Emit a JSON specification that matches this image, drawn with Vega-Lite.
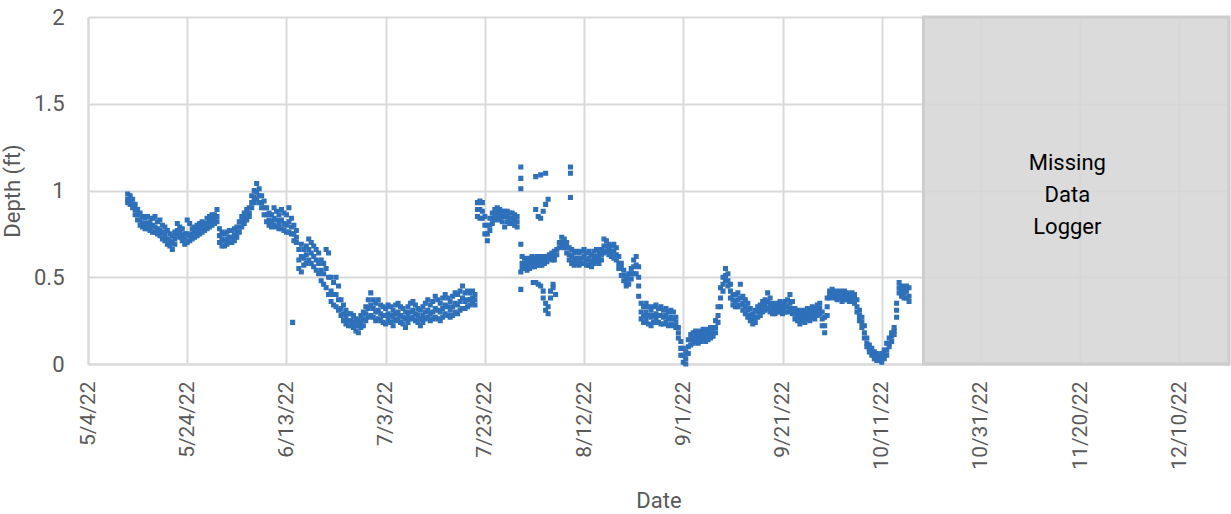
{
"$schema":"https://vega.github.io/schema/vega-lite/v6.json",
"width":1141,"height":347,
"autosize":{"type":"none"},
"padding":{"left":88,"top":17,"right":2,"bottom":150},
"background":"white",
"config":{"view":{"stroke":null},"font":"Roboto"},
"layer":[
{"data":{"values":[{}]},
 "mark":{"type":"rect","fill":"#D6D6D6","fillOpacity":0.88,"stroke":"#CDCDCD","strokeWidth":3},
 "encoding":{"x":{"datum":{"year":2022,"month":10,"date":19,"hours":10},"type":"temporal"},"x2":{"datum":{"year":2022,"month":12,"date":20}},"y":{"datum":0,"type":"quantitative"},"y2":{"datum":2}}},
{"data":{"values":[
{"t":"2022-05-12T00:00","v":0.98},{"t":"2022-05-12T00:00","v":0.95},{"t":"2022-05-12T00:00","v":0.93},{"t":"2022-05-12T12:00","v":0.97},{"t":"2022-05-12T12:00","v":0.94},{"t":"2022-05-12T12:00","v":0.92},
{"t":"2022-05-13T00:00","v":0.95},{"t":"2022-05-13T00:00","v":0.92},{"t":"2022-05-13T00:00","v":0.90},{"t":"2022-05-13T12:00","v":0.92},{"t":"2022-05-13T12:00","v":0.89},{"t":"2022-05-13T12:00","v":0.86},
{"t":"2022-05-14T00:00","v":0.89},{"t":"2022-05-14T00:00","v":0.86},{"t":"2022-05-14T00:00","v":0.83},{"t":"2022-05-14T12:00","v":0.87},{"t":"2022-05-14T12:00","v":0.83},{"t":"2022-05-14T12:00","v":0.80},
{"t":"2022-05-15T00:00","v":0.85},{"t":"2022-05-15T00:00","v":0.81},{"t":"2022-05-15T00:00","v":0.79},{"t":"2022-05-15T12:00","v":0.84},{"t":"2022-05-15T12:00","v":0.80},{"t":"2022-05-15T12:00","v":0.78},
{"t":"2022-05-16T00:00","v":0.85},{"t":"2022-05-16T00:00","v":0.81},{"t":"2022-05-16T00:00","v":0.78},{"t":"2022-05-16T12:00","v":0.82},{"t":"2022-05-16T12:00","v":0.79},{"t":"2022-05-16T12:00","v":0.77},
{"t":"2022-05-17T00:00","v":0.84},{"t":"2022-05-17T00:00","v":0.80},{"t":"2022-05-17T00:00","v":0.76},{"t":"2022-05-17T12:00","v":0.85},{"t":"2022-05-17T12:00","v":0.79},{"t":"2022-05-17T12:00","v":0.76},
{"t":"2022-05-18T00:00","v":0.82},{"t":"2022-05-18T00:00","v":0.78},{"t":"2022-05-18T00:00","v":0.75},{"t":"2022-05-18T12:00","v":0.83},{"t":"2022-05-18T12:00","v":0.77},{"t":"2022-05-18T12:00","v":0.74},
{"t":"2022-05-19T00:00","v":0.80},{"t":"2022-05-19T00:00","v":0.76},{"t":"2022-05-19T00:00","v":0.72},{"t":"2022-05-19T12:00","v":0.79},{"t":"2022-05-19T12:00","v":0.74},{"t":"2022-05-19T12:00","v":0.71},
{"t":"2022-05-20T00:00","v":0.77},{"t":"2022-05-20T00:00","v":0.72},{"t":"2022-05-20T00:00","v":0.69},{"t":"2022-05-20T12:00","v":0.75},{"t":"2022-05-20T12:00","v":0.71},{"t":"2022-05-20T12:00","v":0.68},
{"t":"2022-05-21T00:00","v":0.74},{"t":"2022-05-21T00:00","v":0.70},{"t":"2022-05-21T00:00","v":0.66},{"t":"2022-05-21T12:00","v":0.76},{"t":"2022-05-21T12:00","v":0.72},{"t":"2022-05-21T12:00","v":0.69},
{"t":"2022-05-22T00:00","v":0.81},{"t":"2022-05-22T00:00","v":0.77},{"t":"2022-05-22T00:00","v":0.74},{"t":"2022-05-22T12:00","v":0.79},{"t":"2022-05-22T12:00","v":0.76},{"t":"2022-05-22T12:00","v":0.73},
{"t":"2022-05-23T00:00","v":0.78},{"t":"2022-05-23T00:00","v":0.74},{"t":"2022-05-23T00:00","v":0.71},{"t":"2022-05-23T12:00","v":0.75},{"t":"2022-05-23T12:00","v":0.72},{"t":"2022-05-23T12:00","v":0.69},
{"t":"2022-05-24T00:00","v":0.83},{"t":"2022-05-24T00:00","v":0.75},{"t":"2022-05-24T00:00","v":0.70},{"t":"2022-05-24T12:00","v":0.81},{"t":"2022-05-24T12:00","v":0.74},{"t":"2022-05-24T12:00","v":0.71},
{"t":"2022-05-25T00:00","v":0.78},{"t":"2022-05-25T00:00","v":0.75},{"t":"2022-05-25T00:00","v":0.72},{"t":"2022-05-25T12:00","v":0.79},{"t":"2022-05-25T12:00","v":0.76},{"t":"2022-05-25T12:00","v":0.73},
{"t":"2022-05-26T00:00","v":0.80},{"t":"2022-05-26T00:00","v":0.77},{"t":"2022-05-26T00:00","v":0.74},{"t":"2022-05-26T12:00","v":0.81},{"t":"2022-05-26T12:00","v":0.78},{"t":"2022-05-26T12:00","v":0.75},
{"t":"2022-05-27T00:00","v":0.82},{"t":"2022-05-27T00:00","v":0.78},{"t":"2022-05-27T00:00","v":0.76},{"t":"2022-05-27T12:00","v":0.81},{"t":"2022-05-27T12:00","v":0.79},{"t":"2022-05-27T12:00","v":0.77},
{"t":"2022-05-28T00:00","v":0.84},{"t":"2022-05-28T00:00","v":0.80},{"t":"2022-05-28T00:00","v":0.78},{"t":"2022-05-28T12:00","v":0.85},{"t":"2022-05-28T12:00","v":0.82},{"t":"2022-05-28T12:00","v":0.79},
{"t":"2022-05-29T00:00","v":0.86},{"t":"2022-05-29T00:00","v":0.83},{"t":"2022-05-29T00:00","v":0.80},{"t":"2022-05-29T12:00","v":0.86},{"t":"2022-05-29T12:00","v":0.84},{"t":"2022-05-29T12:00","v":0.81},
{"t":"2022-05-30T00:00","v":0.89},{"t":"2022-05-30T00:00","v":0.85},{"t":"2022-05-30T00:00","v":0.82},{"t":"2022-05-30T12:00","v":0.78},{"t":"2022-05-30T12:00","v":0.74},{"t":"2022-05-30T12:00","v":0.70},
{"t":"2022-05-31T00:00","v":0.76},{"t":"2022-05-31T00:00","v":0.72},{"t":"2022-05-31T00:00","v":0.68},{"t":"2022-05-31T12:00","v":0.75},{"t":"2022-05-31T12:00","v":0.71},{"t":"2022-05-31T12:00","v":0.68},
{"t":"2022-06-01T00:00","v":0.76},{"t":"2022-06-01T00:00","v":0.72},{"t":"2022-06-01T00:00","v":0.69},{"t":"2022-06-01T12:00","v":0.77},{"t":"2022-06-01T12:00","v":0.73},{"t":"2022-06-01T12:00","v":0.70},
{"t":"2022-06-02T00:00","v":0.77},{"t":"2022-06-02T00:00","v":0.73},{"t":"2022-06-02T00:00","v":0.70},{"t":"2022-06-02T12:00","v":0.78},{"t":"2022-06-02T12:00","v":0.74},{"t":"2022-06-02T12:00","v":0.71},
{"t":"2022-06-03T00:00","v":0.79},{"t":"2022-06-03T00:00","v":0.76},{"t":"2022-06-03T00:00","v":0.73},{"t":"2022-06-03T12:00","v":0.82},{"t":"2022-06-03T12:00","v":0.79},{"t":"2022-06-03T12:00","v":0.76},
{"t":"2022-06-04T00:00","v":0.85},{"t":"2022-06-04T00:00","v":0.82},{"t":"2022-06-04T00:00","v":0.79},{"t":"2022-06-04T12:00","v":0.87},{"t":"2022-06-04T12:00","v":0.84},{"t":"2022-06-04T12:00","v":0.81},
{"t":"2022-06-05T00:00","v":0.89},{"t":"2022-06-05T00:00","v":0.86},{"t":"2022-06-05T00:00","v":0.83},{"t":"2022-06-05T12:00","v":0.90},{"t":"2022-06-05T12:00","v":0.87},{"t":"2022-06-05T12:00","v":0.85},
{"t":"2022-06-06T00:00","v":0.97},{"t":"2022-06-06T00:00","v":0.93},{"t":"2022-06-06T00:00","v":0.90},{"t":"2022-06-06T12:00","v":1.00},{"t":"2022-06-06T12:00","v":0.96},{"t":"2022-06-06T12:00","v":0.93},
{"t":"2022-06-07T00:00","v":1.04},{"t":"2022-06-07T00:00","v":0.99},{"t":"2022-06-07T00:00","v":0.95},{"t":"2022-06-07T12:00","v":1.01},{"t":"2022-06-07T12:00","v":0.97},{"t":"2022-06-07T12:00","v":0.93},
{"t":"2022-06-08T00:00","v":0.97},{"t":"2022-06-08T00:00","v":0.93},{"t":"2022-06-08T00:00","v":0.90},{"t":"2022-06-08T12:00","v":0.94},{"t":"2022-06-08T12:00","v":0.90},{"t":"2022-06-08T12:00","v":0.86},
{"t":"2022-06-09T00:00","v":0.90},{"t":"2022-06-09T00:00","v":0.86},{"t":"2022-06-09T00:00","v":0.82},{"t":"2022-06-09T12:00","v":0.87},{"t":"2022-06-09T12:00","v":0.83},{"t":"2022-06-09T12:00","v":0.80},
{"t":"2022-06-10T00:00","v":0.86},{"t":"2022-06-10T00:00","v":0.82},{"t":"2022-06-10T00:00","v":0.79},{"t":"2022-06-10T12:00","v":0.90},{"t":"2022-06-10T12:00","v":0.84},{"t":"2022-06-10T12:00","v":0.80},
{"t":"2022-06-11T00:00","v":0.88},{"t":"2022-06-11T00:00","v":0.83},{"t":"2022-06-11T00:00","v":0.79},{"t":"2022-06-11T12:00","v":0.86},{"t":"2022-06-11T12:00","v":0.81},{"t":"2022-06-11T12:00","v":0.78},
{"t":"2022-06-12T00:00","v":0.89},{"t":"2022-06-12T00:00","v":0.83},{"t":"2022-06-12T00:00","v":0.78},{"t":"2022-06-12T12:00","v":0.87},{"t":"2022-06-12T12:00","v":0.81},{"t":"2022-06-12T12:00","v":0.77},
{"t":"2022-06-13T00:00","v":0.86},{"t":"2022-06-13T00:00","v":0.80},{"t":"2022-06-13T00:00","v":0.76},{"t":"2022-06-13T12:00","v":0.90},{"t":"2022-06-13T12:00","v":0.82},{"t":"2022-06-13T12:00","v":0.76},
{"t":"2022-06-14T00:00","v":0.84},{"t":"2022-06-14T00:00","v":0.79},{"t":"2022-06-14T00:00","v":0.75},{"t":"2022-06-14T06:00","v":0.24},{"t":"2022-06-14T12:00","v":0.80},{"t":"2022-06-14T12:00","v":0.75},{"t":"2022-06-14T12:00","v":0.71},
{"t":"2022-06-15T00:00","v":0.77},{"t":"2022-06-15T00:00","v":0.73},{"t":"2022-06-15T00:00","v":0.70},{"t":"2022-06-15T12:00","v":0.66},{"t":"2022-06-15T12:00","v":0.60},{"t":"2022-06-15T12:00","v":0.55},
{"t":"2022-06-16T00:00","v":0.69},{"t":"2022-06-16T00:00","v":0.62},{"t":"2022-06-16T00:00","v":0.53},{"t":"2022-06-16T12:00","v":0.66},{"t":"2022-06-16T12:00","v":0.61},{"t":"2022-06-16T12:00","v":0.57},
{"t":"2022-06-17T00:00","v":0.68},{"t":"2022-06-17T00:00","v":0.63},{"t":"2022-06-17T00:00","v":0.58},{"t":"2022-06-17T12:00","v":0.72},{"t":"2022-06-17T12:00","v":0.66},{"t":"2022-06-17T12:00","v":0.60},
{"t":"2022-06-18T00:00","v":0.70},{"t":"2022-06-18T00:00","v":0.64},{"t":"2022-06-18T00:00","v":0.58},{"t":"2022-06-18T12:00","v":0.68},{"t":"2022-06-18T12:00","v":0.62},{"t":"2022-06-18T12:00","v":0.56},
{"t":"2022-06-19T00:00","v":0.66},{"t":"2022-06-19T00:00","v":0.60},{"t":"2022-06-19T00:00","v":0.54},{"t":"2022-06-19T12:00","v":0.64},{"t":"2022-06-19T12:00","v":0.58},{"t":"2022-06-19T12:00","v":0.52},
{"t":"2022-06-20T00:00","v":0.60},{"t":"2022-06-20T00:00","v":0.54},{"t":"2022-06-20T00:00","v":0.48},{"t":"2022-06-20T12:00","v":0.58},{"t":"2022-06-20T12:00","v":0.52},{"t":"2022-06-20T12:00","v":0.46},
{"t":"2022-06-21T00:00","v":0.66},{"t":"2022-06-21T00:00","v":0.55},{"t":"2022-06-21T00:00","v":0.44},{"t":"2022-06-21T12:00","v":0.64},{"t":"2022-06-21T12:00","v":0.50},{"t":"2022-06-21T12:00","v":0.40},
{"t":"2022-06-22T00:00","v":0.50},{"t":"2022-06-22T00:00","v":0.42},{"t":"2022-06-22T00:00","v":0.36},{"t":"2022-06-22T12:00","v":0.47},{"t":"2022-06-22T12:00","v":0.40},{"t":"2022-06-22T12:00","v":0.34},
{"t":"2022-06-23T00:00","v":0.50},{"t":"2022-06-23T00:00","v":0.40},{"t":"2022-06-23T00:00","v":0.33},{"t":"2022-06-23T12:00","v":0.45},{"t":"2022-06-23T12:00","v":0.37},{"t":"2022-06-23T12:00","v":0.31},
{"t":"2022-06-24T00:00","v":0.37},{"t":"2022-06-24T00:00","v":0.32},{"t":"2022-06-24T00:00","v":0.28},{"t":"2022-06-24T12:00","v":0.34},{"t":"2022-06-24T12:00","v":0.29},{"t":"2022-06-24T12:00","v":0.25},
{"t":"2022-06-25T00:00","v":0.31},{"t":"2022-06-25T00:00","v":0.27},{"t":"2022-06-25T00:00","v":0.23},{"t":"2022-06-25T12:00","v":0.29},{"t":"2022-06-25T12:00","v":0.25},{"t":"2022-06-25T12:00","v":0.22},
{"t":"2022-06-26T00:00","v":0.29},{"t":"2022-06-26T00:00","v":0.25},{"t":"2022-06-26T00:00","v":0.22},{"t":"2022-06-26T12:00","v":0.28},{"t":"2022-06-26T12:00","v":0.24},{"t":"2022-06-26T12:00","v":0.21},
{"t":"2022-06-27T00:00","v":0.26},{"t":"2022-06-27T00:00","v":0.22},{"t":"2022-06-27T00:00","v":0.19},{"t":"2022-06-27T12:00","v":0.25},{"t":"2022-06-27T12:00","v":0.22},{"t":"2022-06-27T12:00","v":0.18},
{"t":"2022-06-28T00:00","v":0.28},{"t":"2022-06-28T00:00","v":0.24},{"t":"2022-06-28T00:00","v":0.21},{"t":"2022-06-28T12:00","v":0.30},{"t":"2022-06-28T12:00","v":0.26},{"t":"2022-06-28T12:00","v":0.22},
{"t":"2022-06-29T00:00","v":0.33},{"t":"2022-06-29T00:00","v":0.29},{"t":"2022-06-29T00:00","v":0.25},{"t":"2022-06-29T12:00","v":0.37},{"t":"2022-06-29T12:00","v":0.32},{"t":"2022-06-29T12:00","v":0.27},
{"t":"2022-06-30T00:00","v":0.41},{"t":"2022-06-30T00:00","v":0.34},{"t":"2022-06-30T00:00","v":0.28},{"t":"2022-06-30T12:00","v":0.37},{"t":"2022-06-30T12:00","v":0.32},{"t":"2022-06-30T12:00","v":0.27},
{"t":"2022-07-01T00:00","v":0.35},{"t":"2022-07-01T00:00","v":0.30},{"t":"2022-07-01T00:00","v":0.25},{"t":"2022-07-01T12:00","v":0.37},{"t":"2022-07-01T12:00","v":0.31},{"t":"2022-07-01T12:00","v":0.26},
{"t":"2022-07-02T00:00","v":0.34},{"t":"2022-07-02T00:00","v":0.29},{"t":"2022-07-02T00:00","v":0.25},{"t":"2022-07-02T12:00","v":0.33},{"t":"2022-07-02T12:00","v":0.28},{"t":"2022-07-02T12:00","v":0.24},
{"t":"2022-07-03T00:00","v":0.32},{"t":"2022-07-03T00:00","v":0.28},{"t":"2022-07-03T00:00","v":0.23},{"t":"2022-07-03T12:00","v":0.34},{"t":"2022-07-03T12:00","v":0.29},{"t":"2022-07-03T12:00","v":0.25},
{"t":"2022-07-04T00:00","v":0.33},{"t":"2022-07-04T00:00","v":0.28},{"t":"2022-07-04T00:00","v":0.24},{"t":"2022-07-04T12:00","v":0.31},{"t":"2022-07-04T12:00","v":0.27},{"t":"2022-07-04T12:00","v":0.22},
{"t":"2022-07-05T00:00","v":0.34},{"t":"2022-07-05T00:00","v":0.29},{"t":"2022-07-05T00:00","v":0.25},{"t":"2022-07-05T12:00","v":0.35},{"t":"2022-07-05T12:00","v":0.30},{"t":"2022-07-05T12:00","v":0.26},
{"t":"2022-07-06T00:00","v":0.33},{"t":"2022-07-06T00:00","v":0.28},{"t":"2022-07-06T00:00","v":0.24},{"t":"2022-07-06T12:00","v":0.32},{"t":"2022-07-06T12:00","v":0.27},{"t":"2022-07-06T12:00","v":0.23},
{"t":"2022-07-07T00:00","v":0.30},{"t":"2022-07-07T00:00","v":0.26},{"t":"2022-07-07T00:00","v":0.21},{"t":"2022-07-07T12:00","v":0.33},{"t":"2022-07-07T12:00","v":0.28},{"t":"2022-07-07T12:00","v":0.24},
{"t":"2022-07-08T00:00","v":0.35},{"t":"2022-07-08T00:00","v":0.30},{"t":"2022-07-08T00:00","v":0.26},{"t":"2022-07-08T12:00","v":0.36},{"t":"2022-07-08T12:00","v":0.31},{"t":"2022-07-08T12:00","v":0.27},
{"t":"2022-07-09T00:00","v":0.34},{"t":"2022-07-09T00:00","v":0.29},{"t":"2022-07-09T00:00","v":0.25},{"t":"2022-07-09T12:00","v":0.32},{"t":"2022-07-09T12:00","v":0.28},{"t":"2022-07-09T12:00","v":0.24},
{"t":"2022-07-10T00:00","v":0.31},{"t":"2022-07-10T00:00","v":0.26},{"t":"2022-07-10T00:00","v":0.22},{"t":"2022-07-10T12:00","v":0.33},{"t":"2022-07-10T12:00","v":0.28},{"t":"2022-07-10T12:00","v":0.24},
{"t":"2022-07-11T00:00","v":0.35},{"t":"2022-07-11T00:00","v":0.30},{"t":"2022-07-11T00:00","v":0.26},{"t":"2022-07-11T12:00","v":0.37},{"t":"2022-07-11T12:00","v":0.31},{"t":"2022-07-11T12:00","v":0.27},
{"t":"2022-07-12T00:00","v":0.34},{"t":"2022-07-12T00:00","v":0.29},{"t":"2022-07-12T00:00","v":0.25},{"t":"2022-07-12T12:00","v":0.36},{"t":"2022-07-12T12:00","v":0.30},{"t":"2022-07-12T12:00","v":0.26},
{"t":"2022-07-13T00:00","v":0.39},{"t":"2022-07-13T00:00","v":0.32},{"t":"2022-07-13T00:00","v":0.27},{"t":"2022-07-13T12:00","v":0.37},{"t":"2022-07-13T12:00","v":0.31},{"t":"2022-07-13T12:00","v":0.26},
{"t":"2022-07-14T00:00","v":0.35},{"t":"2022-07-14T00:00","v":0.30},{"t":"2022-07-14T00:00","v":0.25},{"t":"2022-07-14T12:00","v":0.38},{"t":"2022-07-14T12:00","v":0.32},{"t":"2022-07-14T12:00","v":0.27},
{"t":"2022-07-15T00:00","v":0.40},{"t":"2022-07-15T00:00","v":0.34},{"t":"2022-07-15T00:00","v":0.29},{"t":"2022-07-15T12:00","v":0.38},{"t":"2022-07-15T12:00","v":0.33},{"t":"2022-07-15T12:00","v":0.28},
{"t":"2022-07-16T00:00","v":0.36},{"t":"2022-07-16T00:00","v":0.31},{"t":"2022-07-16T00:00","v":0.27},{"t":"2022-07-16T12:00","v":0.39},{"t":"2022-07-16T12:00","v":0.33},{"t":"2022-07-16T12:00","v":0.28},
{"t":"2022-07-17T00:00","v":0.41},{"t":"2022-07-17T00:00","v":0.35},{"t":"2022-07-17T00:00","v":0.30},{"t":"2022-07-17T12:00","v":0.40},{"t":"2022-07-17T12:00","v":0.34},{"t":"2022-07-17T12:00","v":0.29},
{"t":"2022-07-18T00:00","v":0.42},{"t":"2022-07-18T00:00","v":0.36},{"t":"2022-07-18T00:00","v":0.31},{"t":"2022-07-18T12:00","v":0.45},{"t":"2022-07-18T12:00","v":0.38},{"t":"2022-07-18T12:00","v":0.32},
{"t":"2022-07-19T00:00","v":0.41},{"t":"2022-07-19T00:00","v":0.36},{"t":"2022-07-19T00:00","v":0.32},{"t":"2022-07-19T12:00","v":0.42},{"t":"2022-07-19T12:00","v":0.37},{"t":"2022-07-19T12:00","v":0.33},
{"t":"2022-07-20T00:00","v":0.41},{"t":"2022-07-20T00:00","v":0.37},{"t":"2022-07-20T00:00","v":0.34},{"t":"2022-07-20T12:00","v":0.42},{"t":"2022-07-20T12:00","v":0.38},{"t":"2022-07-20T12:00","v":0.35},
{"t":"2022-07-21T00:00","v":0.40},{"t":"2022-07-21T00:00","v":0.37},{"t":"2022-07-21T00:00","v":0.34},{"t":"2022-07-21T12:00","v":0.93},{"t":"2022-07-21T12:00","v":0.89},{"t":"2022-07-21T12:00","v":0.85},
{"t":"2022-07-22T00:00","v":0.94},{"t":"2022-07-22T00:00","v":0.89},{"t":"2022-07-22T00:00","v":0.84},{"t":"2022-07-22T12:00","v":0.93},{"t":"2022-07-22T12:00","v":0.88},{"t":"2022-07-22T12:00","v":0.84},
{"t":"2022-07-23T00:00","v":0.85},{"t":"2022-07-23T00:00","v":0.80},{"t":"2022-07-23T00:00","v":0.75},{"t":"2022-07-23T12:00","v":0.80},{"t":"2022-07-23T12:00","v":0.75},{"t":"2022-07-23T12:00","v":0.71},
{"t":"2022-07-24T00:00","v":0.84},{"t":"2022-07-24T00:00","v":0.80},{"t":"2022-07-24T00:00","v":0.77},{"t":"2022-07-24T12:00","v":0.87},{"t":"2022-07-24T12:00","v":0.84},{"t":"2022-07-24T12:00","v":0.81},
{"t":"2022-07-25T00:00","v":0.89},{"t":"2022-07-25T00:00","v":0.86},{"t":"2022-07-25T00:00","v":0.83},{"t":"2022-07-25T12:00","v":0.90},{"t":"2022-07-25T12:00","v":0.87},{"t":"2022-07-25T12:00","v":0.84},
{"t":"2022-07-26T00:00","v":0.89},{"t":"2022-07-26T00:00","v":0.86},{"t":"2022-07-26T00:00","v":0.83},{"t":"2022-07-26T12:00","v":0.88},{"t":"2022-07-26T12:00","v":0.85},{"t":"2022-07-26T12:00","v":0.82},
{"t":"2022-07-27T00:00","v":0.88},{"t":"2022-07-27T00:00","v":0.85},{"t":"2022-07-27T00:00","v":0.79},{"t":"2022-07-27T12:00","v":0.88},{"t":"2022-07-27T12:00","v":0.85},{"t":"2022-07-27T12:00","v":0.82},
{"t":"2022-07-28T00:00","v":0.87},{"t":"2022-07-28T00:00","v":0.84},{"t":"2022-07-28T00:00","v":0.81},{"t":"2022-07-28T12:00","v":0.87},{"t":"2022-07-28T12:00","v":0.84},{"t":"2022-07-28T12:00","v":0.81},
{"t":"2022-07-29T00:00","v":0.86},{"t":"2022-07-29T00:00","v":0.83},{"t":"2022-07-29T00:00","v":0.80},{"t":"2022-07-29T12:00","v":0.85},{"t":"2022-07-29T12:00","v":0.82},{"t":"2022-07-29T12:00","v":0.79},
{"t":"2022-07-30T06:00","v":1.135},{"t":"2022-07-30T06:00","v":1.07},{"t":"2022-07-30T06:00","v":1.01},{"t":"2022-07-30T06:00","v":0.69},{"t":"2022-07-30T06:00","v":0.53},{"t":"2022-07-30T06:00","v":0.43},
{"t":"2022-07-30T12:00","v":0.62},{"t":"2022-07-30T12:00","v":0.58},{"t":"2022-07-30T12:00","v":0.55},
{"t":"2022-07-31T00:00","v":0.61},{"t":"2022-07-31T00:00","v":0.58},{"t":"2022-07-31T00:00","v":0.55},{"t":"2022-07-31T12:00","v":0.60},{"t":"2022-07-31T12:00","v":0.57},{"t":"2022-07-31T12:00","v":0.54},
{"t":"2022-08-01T00:00","v":0.61},{"t":"2022-08-01T00:00","v":0.58},{"t":"2022-08-01T00:00","v":0.55},{"t":"2022-08-01T12:00","v":0.62},{"t":"2022-08-01T12:00","v":0.59},{"t":"2022-08-01T12:00","v":0.56},{"t":"2022-08-01T18:00","v":0.47},
{"t":"2022-08-02T00:00","v":0.61},{"t":"2022-08-02T00:00","v":0.58},{"t":"2022-08-02T00:00","v":0.56},{"t":"2022-08-02T06:00","v":0.47},{"t":"2022-08-02T06:00","v":1.08},{"t":"2022-08-02T06:00","v":0.89},{"t":"2022-08-02T12:00","v":0.62},{"t":"2022-08-02T12:00","v":0.59},{"t":"2022-08-02T12:00","v":0.57},{"t":"2022-08-02T18:00","v":0.46},{"t":"2022-08-02T18:00","v":0.85},
{"t":"2022-08-03T00:00","v":0.62},{"t":"2022-08-03T00:00","v":0.60},{"t":"2022-08-03T00:00","v":0.57},{"t":"2022-08-03T06:00","v":0.45},{"t":"2022-08-03T06:00","v":1.09},{"t":"2022-08-03T06:00","v":0.84},{"t":"2022-08-03T12:00","v":0.61},{"t":"2022-08-03T12:00","v":0.59},{"t":"2022-08-03T12:00","v":0.57},{"t":"2022-08-03T18:00","v":0.42},{"t":"2022-08-03T18:00","v":0.38},{"t":"2022-08-03T18:00","v":0.88},
{"t":"2022-08-04T00:00","v":0.62},{"t":"2022-08-04T00:00","v":0.60},{"t":"2022-08-04T00:00","v":0.58},{"t":"2022-08-04T06:00","v":0.35},{"t":"2022-08-04T06:00","v":0.31},{"t":"2022-08-04T06:00","v":1.10},{"t":"2022-08-04T06:00","v":0.92},{"t":"2022-08-04T12:00","v":0.61},{"t":"2022-08-04T12:00","v":0.59},{"t":"2022-08-04T18:00","v":0.29},{"t":"2022-08-04T18:00","v":0.33},{"t":"2022-08-04T18:00","v":0.95},
{"t":"2022-08-05T00:00","v":0.63},{"t":"2022-08-05T00:00","v":0.61},{"t":"2022-08-05T06:00","v":0.38},{"t":"2022-08-05T06:00","v":0.42},{"t":"2022-08-05T12:00","v":0.64},{"t":"2022-08-05T12:00","v":0.62},{"t":"2022-08-05T12:00","v":0.60},{"t":"2022-08-05T18:00","v":0.44},{"t":"2022-08-05T18:00","v":0.46},
{"t":"2022-08-06T00:00","v":0.65},{"t":"2022-08-06T00:00","v":0.62},{"t":"2022-08-06T00:00","v":0.60},{"t":"2022-08-06T06:00","v":0.40},{"t":"2022-08-06T12:00","v":0.66},{"t":"2022-08-06T12:00","v":0.63},
{"t":"2022-08-07T00:00","v":0.70},{"t":"2022-08-07T00:00","v":0.67},{"t":"2022-08-07T12:00","v":0.73},{"t":"2022-08-07T12:00","v":0.70},{"t":"2022-08-07T12:00","v":0.68},
{"t":"2022-08-08T00:00","v":0.72},{"t":"2022-08-08T00:00","v":0.69},{"t":"2022-08-08T00:00","v":0.67},{"t":"2022-08-08T12:00","v":0.70},{"t":"2022-08-08T12:00","v":0.67},{"t":"2022-08-08T12:00","v":0.64},
{"t":"2022-08-09T00:00","v":0.67},{"t":"2022-08-09T00:00","v":0.63},{"t":"2022-08-09T00:00","v":0.60},{"t":"2022-08-09T06:00","v":1.135},{"t":"2022-08-09T06:00","v":1.10},{"t":"2022-08-09T06:00","v":0.96},{"t":"2022-08-09T12:00","v":0.66},{"t":"2022-08-09T12:00","v":0.62},{"t":"2022-08-09T12:00","v":0.58},
{"t":"2022-08-10T00:00","v":0.64},{"t":"2022-08-10T00:00","v":0.60},{"t":"2022-08-10T00:00","v":0.57},{"t":"2022-08-10T12:00","v":0.65},{"t":"2022-08-10T12:00","v":0.61},{"t":"2022-08-10T12:00","v":0.58},
{"t":"2022-08-11T00:00","v":0.64},{"t":"2022-08-11T00:00","v":0.60},{"t":"2022-08-11T00:00","v":0.57},{"t":"2022-08-11T12:00","v":0.65},{"t":"2022-08-11T12:00","v":0.61},{"t":"2022-08-11T12:00","v":0.58},
{"t":"2022-08-12T00:00","v":0.66},{"t":"2022-08-12T00:00","v":0.62},{"t":"2022-08-12T00:00","v":0.58},{"t":"2022-08-12T12:00","v":0.64},{"t":"2022-08-12T12:00","v":0.60},{"t":"2022-08-12T12:00","v":0.57},
{"t":"2022-08-13T00:00","v":0.65},{"t":"2022-08-13T00:00","v":0.61},{"t":"2022-08-13T00:00","v":0.57},{"t":"2022-08-13T12:00","v":0.63},{"t":"2022-08-13T12:00","v":0.59},{"t":"2022-08-13T12:00","v":0.56},
{"t":"2022-08-14T00:00","v":0.65},{"t":"2022-08-14T00:00","v":0.61},{"t":"2022-08-14T00:00","v":0.58},{"t":"2022-08-14T12:00","v":0.66},{"t":"2022-08-14T12:00","v":0.62},{"t":"2022-08-14T12:00","v":0.59},
{"t":"2022-08-15T00:00","v":0.64},{"t":"2022-08-15T00:00","v":0.61},{"t":"2022-08-15T00:00","v":0.58},{"t":"2022-08-15T12:00","v":0.66},{"t":"2022-08-15T12:00","v":0.63},{"t":"2022-08-15T12:00","v":0.60},
{"t":"2022-08-16T00:00","v":0.72},{"t":"2022-08-16T00:00","v":0.68},{"t":"2022-08-16T00:00","v":0.64},{"t":"2022-08-16T12:00","v":0.71},{"t":"2022-08-16T12:00","v":0.68},{"t":"2022-08-16T12:00","v":0.65},
{"t":"2022-08-17T00:00","v":0.69},{"t":"2022-08-17T00:00","v":0.66},{"t":"2022-08-17T00:00","v":0.63},{"t":"2022-08-17T12:00","v":0.68},{"t":"2022-08-17T12:00","v":0.65},{"t":"2022-08-17T12:00","v":0.62},
{"t":"2022-08-18T00:00","v":0.69},{"t":"2022-08-18T00:00","v":0.65},{"t":"2022-08-18T00:00","v":0.61},{"t":"2022-08-18T12:00","v":0.67},{"t":"2022-08-18T12:00","v":0.63},{"t":"2022-08-18T12:00","v":0.60},
{"t":"2022-08-19T00:00","v":0.62},{"t":"2022-08-19T00:00","v":0.58},{"t":"2022-08-19T00:00","v":0.55},{"t":"2022-08-19T12:00","v":0.58},{"t":"2022-08-19T12:00","v":0.55},{"t":"2022-08-19T12:00","v":0.51},
{"t":"2022-08-20T00:00","v":0.54},{"t":"2022-08-20T00:00","v":0.51},{"t":"2022-08-20T00:00","v":0.48},{"t":"2022-08-20T12:00","v":0.50},{"t":"2022-08-20T12:00","v":0.47},{"t":"2022-08-20T12:00","v":0.45},
{"t":"2022-08-21T00:00","v":0.52},{"t":"2022-08-21T00:00","v":0.49},{"t":"2022-08-21T00:00","v":0.46},{"t":"2022-08-21T12:00","v":0.55},{"t":"2022-08-21T12:00","v":0.52},{"t":"2022-08-21T12:00","v":0.49},
{"t":"2022-08-22T00:00","v":0.60},{"t":"2022-08-22T00:00","v":0.56},{"t":"2022-08-22T00:00","v":0.52},{"t":"2022-08-22T12:00","v":0.62},{"t":"2022-08-22T12:00","v":0.57},{"t":"2022-08-22T12:00","v":0.52},
{"t":"2022-08-23T00:00","v":0.56},{"t":"2022-08-23T00:00","v":0.50},{"t":"2022-08-23T00:00","v":0.45},{"t":"2022-08-23T00:00","v":0.39},{"t":"2022-08-23T12:00","v":0.35},{"t":"2022-08-23T12:00","v":0.30},{"t":"2022-08-23T12:00","v":0.26},
{"t":"2022-08-24T00:00","v":0.33},{"t":"2022-08-24T00:00","v":0.28},{"t":"2022-08-24T00:00","v":0.24},{"t":"2022-08-24T12:00","v":0.35},{"t":"2022-08-24T12:00","v":0.30},{"t":"2022-08-24T12:00","v":0.25},
{"t":"2022-08-25T00:00","v":0.33},{"t":"2022-08-25T00:00","v":0.28},{"t":"2022-08-25T00:00","v":0.23},{"t":"2022-08-25T12:00","v":0.31},{"t":"2022-08-25T12:00","v":0.27},{"t":"2022-08-25T12:00","v":0.22},
{"t":"2022-08-26T00:00","v":0.33},{"t":"2022-08-26T00:00","v":0.28},{"t":"2022-08-26T00:00","v":0.24},{"t":"2022-08-26T12:00","v":0.34},{"t":"2022-08-26T12:00","v":0.29},{"t":"2022-08-26T12:00","v":0.25},
{"t":"2022-08-27T00:00","v":0.32},{"t":"2022-08-27T00:00","v":0.28},{"t":"2022-08-27T00:00","v":0.24},{"t":"2022-08-27T12:00","v":0.33},{"t":"2022-08-27T12:00","v":0.28},{"t":"2022-08-27T12:00","v":0.23},
{"t":"2022-08-28T00:00","v":0.31},{"t":"2022-08-28T00:00","v":0.27},{"t":"2022-08-28T00:00","v":0.23},{"t":"2022-08-28T12:00","v":0.32},{"t":"2022-08-28T12:00","v":0.28},{"t":"2022-08-28T12:00","v":0.24},
{"t":"2022-08-29T00:00","v":0.30},{"t":"2022-08-29T00:00","v":0.26},{"t":"2022-08-29T00:00","v":0.22},{"t":"2022-08-29T12:00","v":0.31},{"t":"2022-08-29T12:00","v":0.27},{"t":"2022-08-29T12:00","v":0.23},
{"t":"2022-08-30T00:00","v":0.30},{"t":"2022-08-30T00:00","v":0.26},{"t":"2022-08-30T00:00","v":0.22},{"t":"2022-08-30T12:00","v":0.27},{"t":"2022-08-30T12:00","v":0.24},{"t":"2022-08-30T12:00","v":0.21},
{"t":"2022-08-31T00:00","v":0.21},{"t":"2022-08-31T00:00","v":0.18},{"t":"2022-08-31T00:00","v":0.15},{"t":"2022-08-31T12:00","v":0.13},{"t":"2022-08-31T12:00","v":0.09},{"t":"2022-08-31T12:00","v":0.05},
{"t":"2022-09-01T00:00","v":0.09},{"t":"2022-09-01T00:00","v":0.05},{"t":"2022-09-01T00:00","v":0.01},{"t":"2022-09-01T12:00","v":0.07},{"t":"2022-09-01T12:00","v":0.03},{"t":"2022-09-01T12:00","v":0.00},
{"t":"2022-09-02T00:00","v":0.14},{"t":"2022-09-02T00:00","v":0.10},{"t":"2022-09-02T00:00","v":0.06},{"t":"2022-09-02T12:00","v":0.17},{"t":"2022-09-02T12:00","v":0.14},{"t":"2022-09-02T12:00","v":0.11},
{"t":"2022-09-03T00:00","v":0.18},{"t":"2022-09-03T00:00","v":0.15},{"t":"2022-09-03T00:00","v":0.12},{"t":"2022-09-03T12:00","v":0.19},{"t":"2022-09-03T12:00","v":0.16},{"t":"2022-09-03T12:00","v":0.13},
{"t":"2022-09-04T00:00","v":0.18},{"t":"2022-09-04T00:00","v":0.15},{"t":"2022-09-04T00:00","v":0.12},{"t":"2022-09-04T12:00","v":0.19},{"t":"2022-09-04T12:00","v":0.16},{"t":"2022-09-04T12:00","v":0.13},
{"t":"2022-09-05T00:00","v":0.20},{"t":"2022-09-05T00:00","v":0.17},{"t":"2022-09-05T00:00","v":0.14},{"t":"2022-09-05T12:00","v":0.19},{"t":"2022-09-05T12:00","v":0.16},{"t":"2022-09-05T12:00","v":0.13},
{"t":"2022-09-06T00:00","v":0.20},{"t":"2022-09-06T00:00","v":0.17},{"t":"2022-09-06T00:00","v":0.14},{"t":"2022-09-06T12:00","v":0.21},{"t":"2022-09-06T12:00","v":0.18},{"t":"2022-09-06T12:00","v":0.15},
{"t":"2022-09-07T00:00","v":0.21},{"t":"2022-09-07T00:00","v":0.18},{"t":"2022-09-07T00:00","v":0.16},{"t":"2022-09-07T12:00","v":0.25},{"t":"2022-09-07T12:00","v":0.21},{"t":"2022-09-07T12:00","v":0.18},
{"t":"2022-09-08T00:00","v":0.33},{"t":"2022-09-08T00:00","v":0.28},{"t":"2022-09-08T00:00","v":0.24},{"t":"2022-09-08T12:00","v":0.44},{"t":"2022-09-08T12:00","v":0.38},{"t":"2022-09-08T12:00","v":0.33},
{"t":"2022-09-09T00:00","v":0.50},{"t":"2022-09-09T00:00","v":0.46},{"t":"2022-09-09T00:00","v":0.42},{"t":"2022-09-09T12:00","v":0.55},{"t":"2022-09-09T12:00","v":0.51},{"t":"2022-09-09T12:00","v":0.48},
{"t":"2022-09-10T00:00","v":0.52},{"t":"2022-09-10T00:00","v":0.48},{"t":"2022-09-10T00:00","v":0.45},{"t":"2022-09-10T12:00","v":0.46},{"t":"2022-09-10T12:00","v":0.42},{"t":"2022-09-10T12:00","v":0.38},
{"t":"2022-09-11T00:00","v":0.40},{"t":"2022-09-11T00:00","v":0.37},{"t":"2022-09-11T00:00","v":0.34},{"t":"2022-09-11T12:00","v":0.40},{"t":"2022-09-11T12:00","v":0.36},{"t":"2022-09-11T12:00","v":0.33},
{"t":"2022-09-12T00:00","v":0.41},{"t":"2022-09-12T00:00","v":0.37},{"t":"2022-09-12T00:00","v":0.33},{"t":"2022-09-12T12:00","v":0.46},{"t":"2022-09-12T12:00","v":0.38},{"t":"2022-09-12T12:00","v":0.34},
{"t":"2022-09-13T00:00","v":0.39},{"t":"2022-09-13T00:00","v":0.35},{"t":"2022-09-13T00:00","v":0.31},{"t":"2022-09-13T12:00","v":0.37},{"t":"2022-09-13T12:00","v":0.33},{"t":"2022-09-13T12:00","v":0.29},
{"t":"2022-09-14T00:00","v":0.35},{"t":"2022-09-14T00:00","v":0.31},{"t":"2022-09-14T00:00","v":0.27},{"t":"2022-09-14T12:00","v":0.32},{"t":"2022-09-14T12:00","v":0.28},{"t":"2022-09-14T12:00","v":0.25},
{"t":"2022-09-15T00:00","v":0.29},{"t":"2022-09-15T00:00","v":0.26},{"t":"2022-09-15T00:00","v":0.23},{"t":"2022-09-15T12:00","v":0.31},{"t":"2022-09-15T12:00","v":0.27},{"t":"2022-09-15T12:00","v":0.24},
{"t":"2022-09-16T00:00","v":0.33},{"t":"2022-09-16T00:00","v":0.30},{"t":"2022-09-16T00:00","v":0.27},{"t":"2022-09-16T12:00","v":0.34},{"t":"2022-09-16T12:00","v":0.31},{"t":"2022-09-16T12:00","v":0.28},
{"t":"2022-09-17T00:00","v":0.36},{"t":"2022-09-17T00:00","v":0.33},{"t":"2022-09-17T00:00","v":0.30},{"t":"2022-09-17T12:00","v":0.37},{"t":"2022-09-17T12:00","v":0.34},{"t":"2022-09-17T12:00","v":0.31},
{"t":"2022-09-18T00:00","v":0.41},{"t":"2022-09-18T00:00","v":0.36},{"t":"2022-09-18T00:00","v":0.32},{"t":"2022-09-18T12:00","v":0.38},{"t":"2022-09-18T12:00","v":0.34},{"t":"2022-09-18T12:00","v":0.30},
{"t":"2022-09-19T00:00","v":0.35},{"t":"2022-09-19T00:00","v":0.32},{"t":"2022-09-19T00:00","v":0.29},{"t":"2022-09-19T12:00","v":0.34},{"t":"2022-09-19T12:00","v":0.31},{"t":"2022-09-19T12:00","v":0.29},
{"t":"2022-09-20T00:00","v":0.35},{"t":"2022-09-20T00:00","v":0.32},{"t":"2022-09-20T00:00","v":0.30},{"t":"2022-09-20T12:00","v":0.36},{"t":"2022-09-20T12:00","v":0.33},{"t":"2022-09-20T12:00","v":0.30},
{"t":"2022-09-21T00:00","v":0.35},{"t":"2022-09-21T00:00","v":0.32},{"t":"2022-09-21T00:00","v":0.29},{"t":"2022-09-21T12:00","v":0.36},{"t":"2022-09-21T12:00","v":0.33},{"t":"2022-09-21T12:00","v":0.30},
{"t":"2022-09-22T00:00","v":0.37},{"t":"2022-09-22T00:00","v":0.33},{"t":"2022-09-22T00:00","v":0.30},{"t":"2022-09-22T12:00","v":0.40},{"t":"2022-09-22T12:00","v":0.35},{"t":"2022-09-22T12:00","v":0.31},
{"t":"2022-09-23T00:00","v":0.36},{"t":"2022-09-23T00:00","v":0.32},{"t":"2022-09-23T00:00","v":0.29},{"t":"2022-09-23T12:00","v":0.32},{"t":"2022-09-23T12:00","v":0.29},{"t":"2022-09-23T12:00","v":0.26},
{"t":"2022-09-24T00:00","v":0.31},{"t":"2022-09-24T00:00","v":0.28},{"t":"2022-09-24T00:00","v":0.25},{"t":"2022-09-24T12:00","v":0.30},{"t":"2022-09-24T12:00","v":0.27},{"t":"2022-09-24T12:00","v":0.23},
{"t":"2022-09-25T00:00","v":0.31},{"t":"2022-09-25T00:00","v":0.28},{"t":"2022-09-25T00:00","v":0.25},{"t":"2022-09-25T12:00","v":0.30},{"t":"2022-09-25T12:00","v":0.27},{"t":"2022-09-25T12:00","v":0.24},
{"t":"2022-09-26T00:00","v":0.32},{"t":"2022-09-26T00:00","v":0.29},{"t":"2022-09-26T00:00","v":0.26},{"t":"2022-09-26T12:00","v":0.31},{"t":"2022-09-26T12:00","v":0.28},{"t":"2022-09-26T12:00","v":0.25},
{"t":"2022-09-27T00:00","v":0.33},{"t":"2022-09-27T00:00","v":0.30},{"t":"2022-09-27T00:00","v":0.27},{"t":"2022-09-27T12:00","v":0.32},{"t":"2022-09-27T12:00","v":0.29},{"t":"2022-09-27T12:00","v":0.26},
{"t":"2022-09-28T00:00","v":0.34},{"t":"2022-09-28T00:00","v":0.31},{"t":"2022-09-28T00:00","v":0.28},{"t":"2022-09-28T12:00","v":0.35},{"t":"2022-09-28T12:00","v":0.32},{"t":"2022-09-28T12:00","v":0.29},
{"t":"2022-09-29T00:00","v":0.30},{"t":"2022-09-29T00:00","v":0.26},{"t":"2022-09-29T00:00","v":0.22},{"t":"2022-09-29T12:00","v":0.27},{"t":"2022-09-29T12:00","v":0.22},{"t":"2022-09-29T12:00","v":0.18},
{"t":"2022-09-30T00:00","v":0.38},{"t":"2022-09-30T00:00","v":0.33},{"t":"2022-09-30T00:00","v":0.28},{"t":"2022-09-30T12:00","v":0.42},{"t":"2022-09-30T12:00","v":0.40},{"t":"2022-09-30T12:00","v":0.38},
{"t":"2022-10-01T00:00","v":0.43},{"t":"2022-10-01T00:00","v":0.41},{"t":"2022-10-01T00:00","v":0.39},{"t":"2022-10-01T12:00","v":0.42},{"t":"2022-10-01T12:00","v":0.40},{"t":"2022-10-01T12:00","v":0.38},
{"t":"2022-10-02T00:00","v":0.41},{"t":"2022-10-02T00:00","v":0.39},{"t":"2022-10-02T00:00","v":0.37},{"t":"2022-10-02T12:00","v":0.42},{"t":"2022-10-02T12:00","v":0.40},{"t":"2022-10-02T12:00","v":0.38},
{"t":"2022-10-03T00:00","v":0.41},{"t":"2022-10-03T00:00","v":0.39},{"t":"2022-10-03T00:00","v":0.36},{"t":"2022-10-03T12:00","v":0.42},{"t":"2022-10-03T12:00","v":0.40},{"t":"2022-10-03T12:00","v":0.37},
{"t":"2022-10-04T00:00","v":0.41},{"t":"2022-10-04T00:00","v":0.39},{"t":"2022-10-04T00:00","v":0.37},{"t":"2022-10-04T12:00","v":0.40},{"t":"2022-10-04T12:00","v":0.38},{"t":"2022-10-04T12:00","v":0.36},
{"t":"2022-10-05T00:00","v":0.41},{"t":"2022-10-05T00:00","v":0.39},{"t":"2022-10-05T00:00","v":0.37},{"t":"2022-10-05T12:00","v":0.40},{"t":"2022-10-05T12:00","v":0.38},{"t":"2022-10-05T12:00","v":0.35},
{"t":"2022-10-06T00:00","v":0.37},{"t":"2022-10-06T00:00","v":0.33},{"t":"2022-10-06T00:00","v":0.30},{"t":"2022-10-06T12:00","v":0.31},{"t":"2022-10-06T12:00","v":0.28},{"t":"2022-10-06T12:00","v":0.25},
{"t":"2022-10-07T00:00","v":0.27},{"t":"2022-10-07T00:00","v":0.24},{"t":"2022-10-07T00:00","v":0.21},{"t":"2022-10-07T12:00","v":0.22},{"t":"2022-10-07T12:00","v":0.18},{"t":"2022-10-07T12:00","v":0.15},
{"t":"2022-10-08T00:00","v":0.15},{"t":"2022-10-08T00:00","v":0.12},{"t":"2022-10-08T00:00","v":0.10},{"t":"2022-10-08T12:00","v":0.11},{"t":"2022-10-08T12:00","v":0.09},{"t":"2022-10-08T12:00","v":0.07},
{"t":"2022-10-09T00:00","v":0.09},{"t":"2022-10-09T00:00","v":0.07},{"t":"2022-10-09T00:00","v":0.05},{"t":"2022-10-09T12:00","v":0.07},{"t":"2022-10-09T12:00","v":0.05},{"t":"2022-10-09T12:00","v":0.03},
{"t":"2022-10-10T00:00","v":0.06},{"t":"2022-10-10T00:00","v":0.04},{"t":"2022-10-10T00:00","v":0.02},{"t":"2022-10-10T12:00","v":0.05},{"t":"2022-10-10T12:00","v":0.03},{"t":"2022-10-10T12:00","v":0.02},
{"t":"2022-10-11T00:00","v":0.06},{"t":"2022-10-11T00:00","v":0.03},{"t":"2022-10-11T00:00","v":0.01},{"t":"2022-10-11T12:00","v":0.08},{"t":"2022-10-11T12:00","v":0.05},{"t":"2022-10-11T12:00","v":0.03},
{"t":"2022-10-12T00:00","v":0.12},{"t":"2022-10-12T00:00","v":0.08},{"t":"2022-10-12T00:00","v":0.05},{"t":"2022-10-12T12:00","v":0.15},{"t":"2022-10-12T12:00","v":0.12},{"t":"2022-10-12T12:00","v":0.10},
{"t":"2022-10-13T00:00","v":0.18},{"t":"2022-10-13T00:00","v":0.16},{"t":"2022-10-13T00:00","v":0.13},{"t":"2022-10-13T12:00","v":0.21},{"t":"2022-10-13T12:00","v":0.19},{"t":"2022-10-13T12:00","v":0.17},
{"t":"2022-10-14T00:00","v":0.27},{"t":"2022-10-14T00:00","v":0.31},{"t":"2022-10-14T00:00","v":0.35},{"t":"2022-10-14T12:00","v":0.41},{"t":"2022-10-14T12:00","v":0.44},{"t":"2022-10-14T12:00","v":0.47},
{"t":"2022-10-15T00:00","v":0.45},{"t":"2022-10-15T00:00","v":0.42},{"t":"2022-10-15T00:00","v":0.39},{"t":"2022-10-15T12:00","v":0.44},{"t":"2022-10-15T12:00","v":0.41},{"t":"2022-10-15T12:00","v":0.38},
{"t":"2022-10-16T00:00","v":0.45},{"t":"2022-10-16T00:00","v":0.42},{"t":"2022-10-16T00:00","v":0.38},{"t":"2022-10-16T12:00","v":0.44},{"t":"2022-10-16T12:00","v":0.39},{"t":"2022-10-16T12:00","v":0.36}
]},
 "mark":{"type":"point","shape":"square","filled":true,"size":14,"color":"#2E70BA","fill":"#2E70BA","stroke":"#2E70BA","strokeWidth":1.3,"opacity":1},
 "encoding":{
  "x":{"field":"t","type":"temporal","title":"Date",
   "scale":{"domain":[{"year":2022,"month":5,"date":4},{"year":2022,"month":12,"date":20}]},
   "axis":{"values":[{"year":2022,"month":5,"date":4},{"year":2022,"month":5,"date":24},{"year":2022,"month":6,"date":13},{"year":2022,"month":7,"date":3},{"year":2022,"month":7,"date":23},{"year":2022,"month":8,"date":12},{"year":2022,"month":9,"date":1},{"year":2022,"month":9,"date":21},{"year":2022,"month":10,"date":11},{"year":2022,"month":10,"date":31},{"year":2022,"month":11,"date":20},{"year":2022,"month":12,"date":10}],
    "format":"%-m/%-d/%y","labelAngle":-90,"labelFontSize":21,"labelColor":"#595959","labelPadding":17,
    "ticks":false,"grid":true,"gridColor":"#D9D9D9","gridWidth":2,"domainColor":"#D9D9D9","domainWidth":2,
    "titleFontSize":22,"titleFontWeight":"normal","titleColor":"#595959","titlePadding":21,"labelOverlap":false,"labelFlush":false}},
  "y":{"field":"v","type":"quantitative","title":"Depth (ft)",
   "scale":{"domain":[0,2],"nice":false,"zero":true},
   "axis":{"values":[0,0.5,1,1.5,2],"format":"~g","labelFontSize":22,"labelColor":"#595959","labelPadding":24,
    "ticks":false,"grid":true,"gridColor":"#D9D9D9","gridWidth":2,"domainColor":"#D9D9D9","domainWidth":2,
    "titleFontSize":22,"titleFontWeight":"normal","titleColor":"#595959","titlePadding":9,"labelFlush":false}}
 }},
{"data":{"values":[{"label":"Missing\nData\nLogger"}]},
 "mark":{"type":"text","lineBreak":"\n","lineHeight":32,"fontSize":22,"color":"#000000","font":"Roboto","align":"center","baseline":"middle"},
 "encoding":{"text":{"field":"label"},"x":{"datum":{"year":2022,"month":11,"date":17,"hours":10},"type":"temporal"},"y":{"datum":1.16,"type":"quantitative"}}}
]
}
